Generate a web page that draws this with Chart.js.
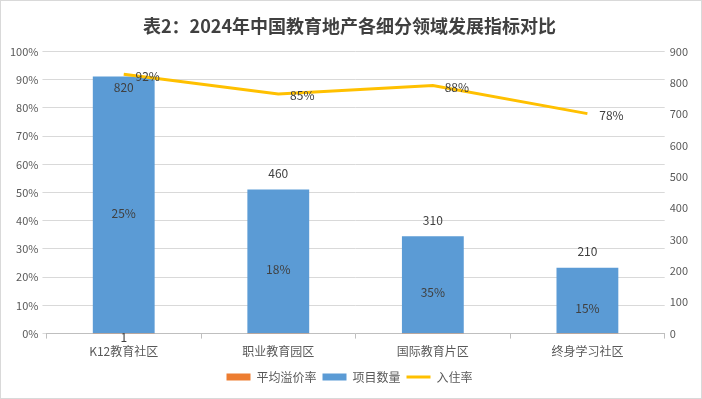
<!DOCTYPE html>
<html>
<head>
<meta charset="utf-8">
<script src="https://cdn.jsdelivr.net/npm/chart.js@4.4.0/dist/chart.umd.min.js"></script>
<style>
html, body { margin: 0; padding: 0; background: #fff; }
#wrap { width: 702px; height: 399px; }
</style>
</head>
<body>
<div id="wrap"><canvas id="chartCanvas"></canvas></div>
<script>
// data
const categories = ['K12教育社区', '职业教育园区', '国际教育片区', '终身学习社区'];
const premiumRates = [0.25, 0.18, 0.35, 0.15];   // 平均溢价率
const projectCounts = [820, 460, 310, 210];      // 项目数量
const occupancyRates = [0.92, 0.85, 0.88, 0.78]; // 入住率
const baseNote = '1';

const FONT = '"Noto Sans CJK SC", "Microsoft YaHei", sans-serif';
const TEXT = '#595959';

// white background + thin frame like the exported picture
const framePlugin = {
    id: 'frame',
    beforeDraw(chart) {
        const ctx = chart.ctx;
        ctx.save();
        ctx.fillStyle = '#ffffff';
        ctx.fillRect(0, 0, chart.width, chart.height);
        ctx.restore();
    },
    afterDraw(chart) {
        const ctx = chart.ctx;
        ctx.save();
        ctx.strokeStyle = '#d9d9d9';
        ctx.lineWidth = 1;
        ctx.strokeRect(0.5, 0.5, chart.width - 1, chart.height - 1);
        ctx.restore();
    }
};

// data labels (no datalabels plugin available offline)
const labelPlugin = {
    id: 'valueLabels',
    afterDatasetsDraw(chart) {
        const ctx = chart.ctx;
        const barMeta = chart.getDatasetMeta(1);
        const lineMeta = chart.getDatasetMeta(2);
        ctx.save();
        ctx.font = '12px ' + FONT;
        ctx.fillStyle = '#404040';
        ctx.textAlign = 'center';
        ctx.textBaseline = 'middle';
        lineMeta.data.forEach((pt, i) => {
            ctx.fillText(Math.round(occupancyRates[i] * 100) + '%', pt.x + 24, pt.y + 2);
        });
        barMeta.data.forEach((bar, i) => {
            const lp = lineMeta.data[i];
            let y = bar.y - 16;
            if (Math.abs(y - lp.y) < 16) y = bar.y + 11;
            ctx.fillText(String(projectCounts[i]), bar.x, y);
            ctx.fillText(Math.round(premiumRates[i] * 100) + '%', bar.x, (bar.y + bar.base) / 2 + 8);
        });
        const first = barMeta.data[0];
        ctx.fillText(baseNote, first.x, first.base + 4);
        ctx.restore();
    }
};

const ctx = document.getElementById('chartCanvas').getContext('2d');
const chart = new Chart(ctx, {
    type: 'bar',
    data: {
        labels: categories,
        datasets: [
            {
                label: '平均溢价率',
                data: premiumRates,
                backgroundColor: '#ED7D31',
                yAxisID: 'y1',
                stack: 's',
                order: 1,
                barPercentage: 0.8,
                categoryPercentage: 0.5
            },
            {
                label: '项目数量',
                data: projectCounts,
                backgroundColor: '#5B9BD5',
                yAxisID: 'y1',
                stack: 's',
                order: 1,
                barPercentage: 0.8,
                categoryPercentage: 0.5
            },
            {
                type: 'line',
                label: '入住率',
                data: occupancyRates,
                borderColor: '#FFC000',
                backgroundColor: '#FFC000',
                borderWidth: 3,
                pointRadius: 0,
                tension: 0,
                yAxisID: 'y',
                order: 0
            }
        ]
    },
    options: {
        responsive: true,
        maintainAspectRatio: false,
        animation: false,
        layout: { padding: { left: 6, right: 9, top: 5, bottom: 6 } },
        plugins: {
            title: {
                display: true,
                text: '表2：2024年中国教育地产各细分领域发展指标对比',
                color: '#404040',
                font: { family: FONT, size: 18, weight: 'bold' },
                padding: { top: 10, bottom: 15 }
            },
            legend: {
                position: 'bottom',
                labels: {
                    color: TEXT,
                    font: { family: FONT, size: 12 },
                    usePointStyle: true,
                    pointStyleWidth: 24,
                    boxHeight: 7,
                    padding: 6,
                    sort: (a, b) => a.datasetIndex - b.datasetIndex,
                    generateLabels(chart) {
                        const items = Chart.defaults.plugins.legend.labels.generateLabels(chart);
                        items.forEach(it => {
                            const ds = chart.data.datasets[it.datasetIndex];
                            it.pointStyle = ds.type === 'line' ? 'line' : 'rect';
                            if (ds.type !== 'line') it.lineWidth = 0;
                        });
                        return items;
                    }
                }
            },
            tooltip: { enabled: false }
        },
        scales: {
            x: {
                grid: { offset: true, drawOnChartArea: false, tickLength: 5, color: '#bfbfbf' },
                border: { color: '#bfbfbf' },
                ticks: { color: TEXT, font: { family: FONT, size: 12 }, padding: 6 }
            },
            y: {
                position: 'left',
                min: 0,
                max: 1,
                ticks: {
                    stepSize: 0.1,
                    color: TEXT,
                    font: { family: FONT, size: 11 },
                    padding: 4,
                    callback: v => Math.round(v * 100) + '%'
                },
                grid: { color: '#d9d9d9', tickLength: 4 },
                border: { display: false }
            },
            y1: {
                position: 'right',
                min: 0,
                max: 900,
                ticks: {
                    stepSize: 100,
                    color: TEXT,
                    font: { family: FONT, size: 11 },
                    padding: 5
                },
                grid: { drawOnChartArea: false, drawTicks: false, tickLength: 0 },
                border: { display: false }
            }
        }
    },
    plugins: [framePlugin, labelPlugin]
});
</script>
</body>
</html>
